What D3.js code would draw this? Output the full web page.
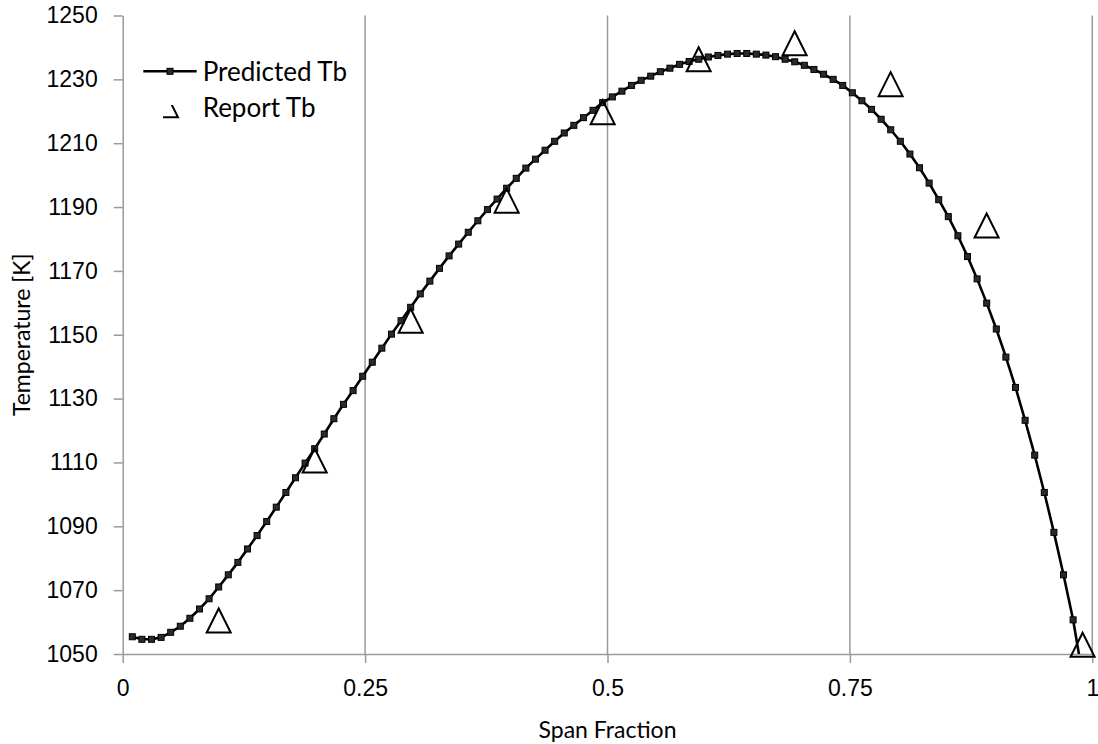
<!DOCTYPE html>
<html>
<head>
<meta charset="utf-8">
<script src="https://cdn.jsdelivr.net/npm/d3@7"></script>
<style>
  body { margin: 0; background: #fff; }
  svg { display: block; font-family: Lato, "Open Sans", sans-serif; }
  .axis path, .axis line { stroke: #9a9a9a; stroke-width: 1.5; }
  .axis text { font-size: 23px; fill: #000; }
  .grid line { stroke: #9a9a9a; stroke-width: 1.5; }
</style>
</head>
<body>
<div id="d3-container"></div>
<script>
/**
 * DATA
 * */
// span fraction of every predicted point
const span = [
  0.0099, 0.0198, 0.0297, 0.0396, 0.0495, 0.0594, 0.0693, 0.0792, 0.0891, 0.0990,
  0.1089, 0.1188, 0.1287, 0.1386, 0.1485, 0.1584, 0.1683, 0.1782, 0.1881, 0.1980,
  0.2079, 0.2178, 0.2277, 0.2376, 0.2475, 0.2574, 0.2673, 0.2772, 0.2871, 0.2970,
  0.3069, 0.3168, 0.3267, 0.3366, 0.3465, 0.3564, 0.3663, 0.3762, 0.3861, 0.3960,
  0.4059, 0.4158, 0.4257, 0.4356, 0.4455, 0.4554, 0.4653, 0.4752, 0.4851, 0.4950,
  0.5050, 0.5149, 0.5248, 0.5347, 0.5446, 0.5545, 0.5644, 0.5743, 0.5842, 0.5941,
  0.6040, 0.6139, 0.6238, 0.6337, 0.6436, 0.6535, 0.6634, 0.6733, 0.6832, 0.6931,
  0.7030, 0.7129, 0.7228, 0.7327, 0.7426, 0.7525, 0.7624, 0.7723, 0.7822, 0.7921,
  0.8020, 0.8119, 0.8218, 0.8317, 0.8416, 0.8515, 0.8614, 0.8713, 0.8812, 0.8911,
  0.9010, 0.9109, 0.9208, 0.9307, 0.9406, 0.9505, 0.9604, 0.9703, 0.9802, 0.9901
];

// predicted Tb [K]
const predictedTb = [
  1055.4, 1054.6, 1054.6, 1055.2, 1056.8, 1058.7, 1061.2, 1064.1, 1067.3, 1071.0,
  1074.8, 1078.7, 1082.9, 1087.1, 1091.5, 1096.0, 1100.6, 1105.2, 1109.8, 1114.3,
  1118.9, 1123.7, 1128.2, 1132.5, 1137.0, 1141.4, 1145.8, 1150.2, 1154.4, 1158.6,
  1162.8, 1166.8, 1170.8, 1174.7, 1178.4, 1182.1, 1185.7, 1189.2, 1192.5, 1195.9,
  1199.0, 1202.2, 1205.0, 1207.8, 1210.6, 1213.2, 1215.6, 1218.0, 1220.3, 1222.7,
  1224.5, 1226.3, 1228.1, 1229.7, 1231.0, 1232.4, 1233.5, 1234.7, 1235.6, 1236.3,
  1237.0, 1237.5, 1237.9, 1238.1, 1238.1, 1237.9, 1237.6, 1237.1, 1236.3, 1235.5,
  1234.4, 1233.1, 1231.6, 1230.0, 1228.1, 1225.8, 1223.3, 1220.6, 1217.5, 1214.2,
  1210.6, 1206.6, 1202.3, 1197.5, 1192.3, 1187.0, 1181.0, 1174.5, 1167.5, 1159.9,
  1151.8, 1143.0, 1133.5, 1123.2, 1112.3, 1100.6, 1088.1, 1074.8, 1060.7, 1043.0
];

// reported Tb
const reportSpan = [0.099, 0.198, 0.297, 0.396, 0.495, 0.594, 0.693, 0.792, 0.891, 0.990];
const reportTb = [1060.5, 1110.6, 1154.4, 1192.0, 1219.7, 1236.3, 1241.3, 1228.5, 1184.2, 1052.9];

// ticks
const xTicks = [0, 0.25, 0.5, 0.75, 1];
const xTickLabels = ["0", "0.25", "0.5", "0.75", "1"];
const yTicks = [1050, 1070, 1090, 1110, 1130, 1150, 1170, 1190, 1210, 1230, 1250];

/**
 * CONSTANTS AND GLOBALS
 * */
const width = 1098,
  height = 744,
  margin = { top: 15.5, bottom: 90, left: 122.7, right: 5.7 };

let svg;
let xScale;
let yScale;

init();

function init() {
  xScale = d3.scaleLinear()
    .domain([0, 1])
    .range([margin.left, width - margin.right]);

  yScale = d3.scaleLinear()
    .domain([1050, 1250])
    .range([height - margin.bottom, margin.top]);

  svg = d3.select("#d3-container")
    .append("svg")
    .attr("width", width)
    .attr("height", height);

  const defs = svg.append("defs");
  defs.append("clipPath")
    .attr("id", "plot-clip")
    .append("rect")
    .attr("x", margin.left)
    .attr("y", margin.top - 5)
    .attr("width", width - margin.left - margin.right)
    .attr("height", height - margin.top - margin.bottom + 5);

  // the legend key of the triangles is cut, like in the original
  defs.append("clipPath")
    .attr("id", "legend-clip")
    .append("rect")
    .attr("x", 163)
    .attr("y", 105)
    .attr("width", 30)
    .attr("height", 20);

  // vertical gridlines
  svg.append("g")
    .attr("class", "grid")
    .selectAll("line")
    .data(xTicks.slice(1))
    .join("line")
    .attr("x1", d => xScale(d))
    .attr("x2", d => xScale(d))
    .attr("y1", yScale(1250))
    .attr("y2", yScale(1050));

  // x axis
  const xAxis = d3.axisBottom(xScale)
    .tickValues(xTicks)
    .tickFormat((d, i) => xTickLabels[i])
    .tickSize(9)
    .tickPadding(17)
    .tickSizeOuter(0);

  svg.append("g")
    .attr("class", "axis x-axis")
    .attr("transform", `translate(0,${yScale(1050)})`)
    .call(xAxis);

  // y axis
  const yAxis = d3.axisLeft(yScale)
    .tickValues(yTicks)
    .tickFormat(d3.format("d"))
    .tickSize(9)
    .tickPadding(16)
    .tickSizeOuter(0);

  svg.append("g")
    .attr("class", "axis y-axis")
    .attr("transform", `translate(${margin.left},0)`)
    .call(yAxis);

  // axis titles
  svg.append("text")
    .attr("x", (xScale(0) + xScale(1)) / 2)
    .attr("y", 738)
    .attr("text-anchor", "middle")
    .attr("font-size", 23)
    .text("Span Fraction");

  svg.append("text")
    .attr("transform", `translate(30,${(yScale(1050) + yScale(1250)) / 2}) rotate(-90)`)
    .attr("text-anchor", "middle")
    .attr("font-size", 23)
    .text("Temperature [K]");

  draw();
}

function draw() {
  const predicted = span.map((s, i) => ({ x: s, y: predictedTb[i] }));
  const report = reportSpan.map((s, i) => ({ x: s, y: reportTb[i] }));

  const line = d3.line()
    .x(d => xScale(d.x))
    .y(d => yScale(d.y));

  const plot = svg.append("g").attr("clip-path", "url(#plot-clip)");

  plot.append("path")
    .datum(predicted)
    .attr("fill", "none")
    .attr("stroke", "#000")
    .attr("stroke-width", 2.6)
    .attr("d", line);

  plot.selectAll(".dot")
    .data(predicted)
    .join("rect")
    .attr("class", "dot")
    .attr("x", d => xScale(d.x) - 3)
    .attr("y", d => yScale(d.y) - 3)
    .attr("width", 6)
    .attr("height", 6)
    .attr("fill", "#2a2a2a")
    .attr("stroke", "#000")
    .attr("stroke-width", 1);

  // triangles (report)
  svg.selectAll(".tri")
    .data(report)
    .join("path")
    .attr("class", "tri")
    .attr("d", triPath)
    .attr("transform", d => `translate(${xScale(d.x)},${yScale(d.y)})`)
    .attr("fill", "none")
    .attr("stroke", "#000")
    .attr("stroke-width", 2);

  // legend
  const legend = svg.append("g").attr("class", "legend");
  legend.append("line")
    .attr("x1", 143.3).attr("x2", 196.7)
    .attr("y1", 71.3).attr("y2", 71.3)
    .attr("stroke", "#000")
    .attr("stroke-width", 2.6);
  legend.append("rect")
    .attr("x", 167).attr("y", 68.3)
    .attr("width", 6).attr("height", 6)
    .attr("fill", "#2a2a2a")
    .attr("stroke", "#000");
  legend.append("text")
    .attr("x", 202.7).attr("y", 81)
    .attr("font-size", 26)
    .text("Predicted Tb");

  legend.append("g")
    .attr("clip-path", "url(#legend-clip)")
    .append("path")
    .attr("d", triPath)
    .attr("transform", "translate(166,105.3)")
    .attr("fill", "none")
    .attr("stroke", "#000")
    .attr("stroke-width", 2);
  legend.append("text")
    .attr("x", 202.7).attr("y", 117.3)
    .attr("font-size", 26)
    .text("Report Tb");
}

// triangle 24 wide x 24 tall, centred on the point
function triPath() {
  return "M0,-12L12,12L-12,12Z";
}
</script>
</body>
</html>
